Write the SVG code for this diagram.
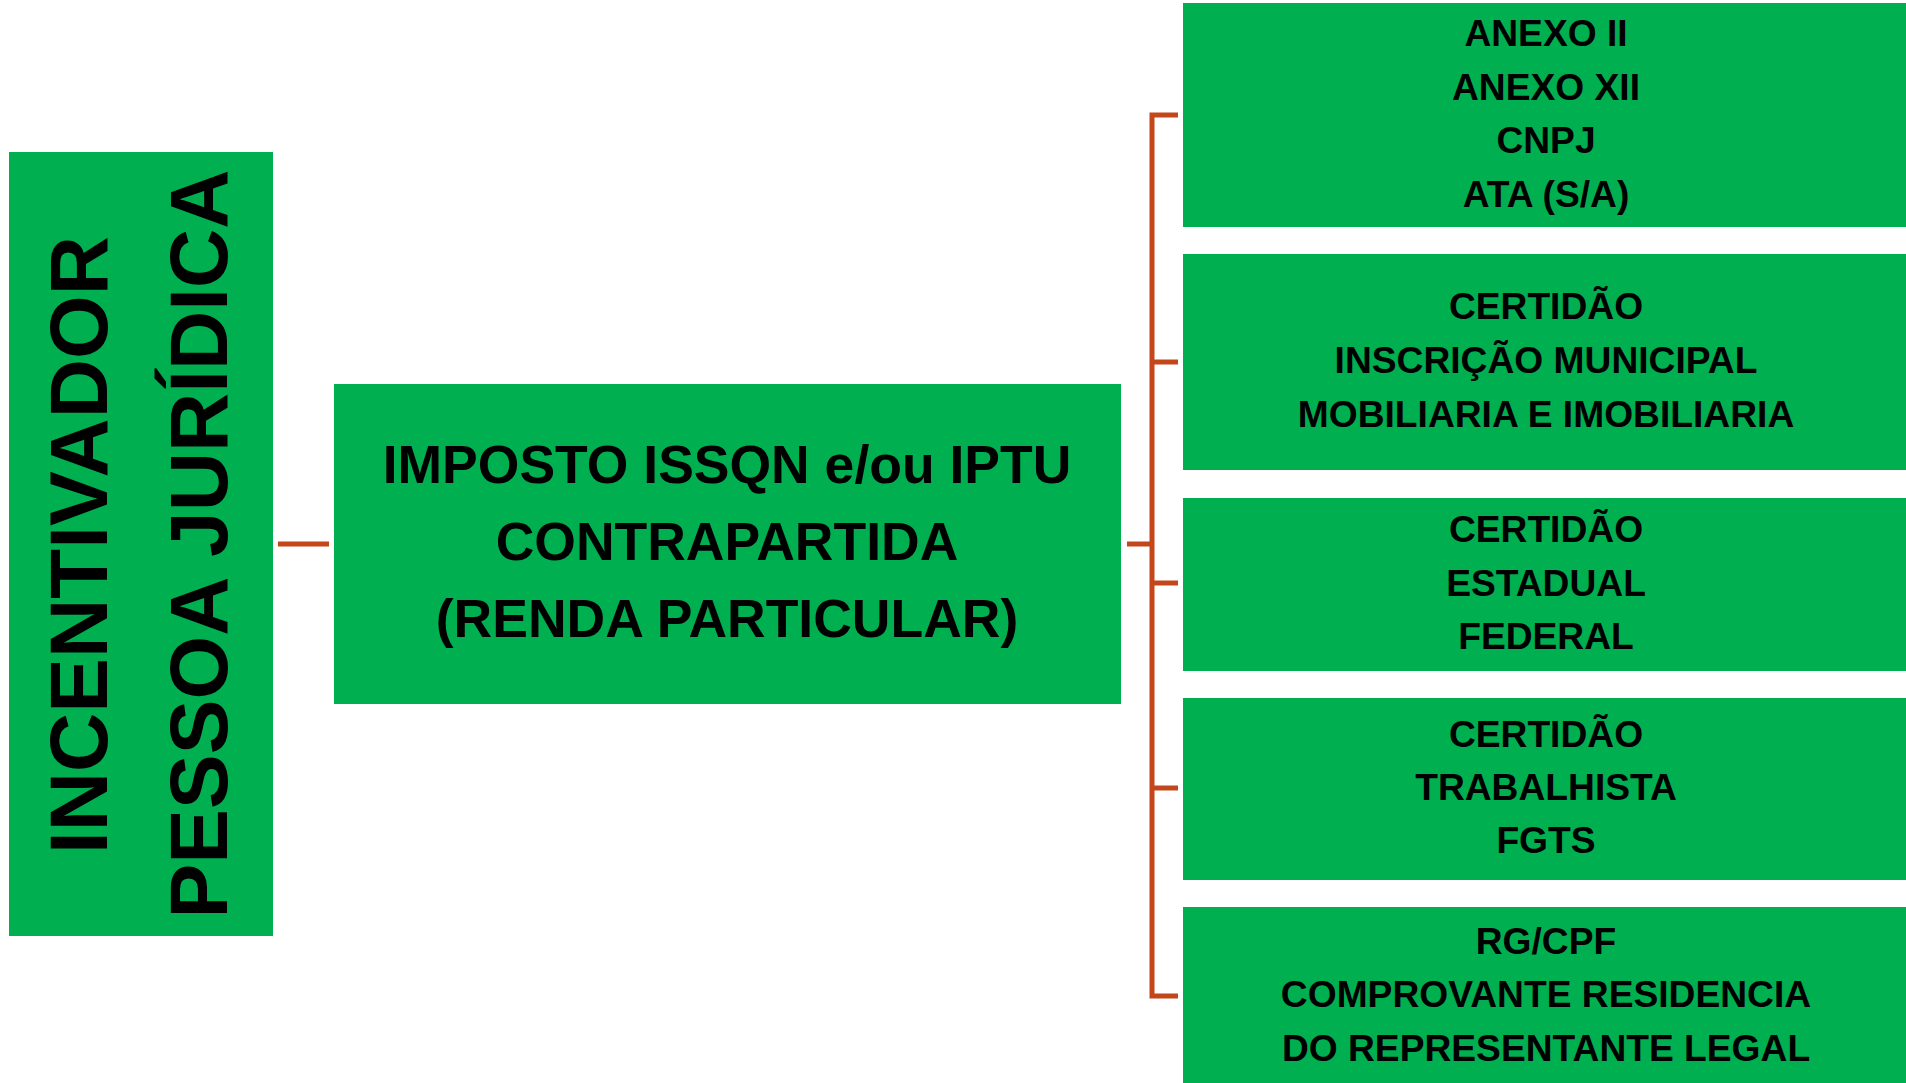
<svg xmlns="http://www.w3.org/2000/svg" width="1906" height="1083" viewBox="0 0 1906 1083">
<style>
.box{fill:#00B050}
.t{font-family:"Liberation Sans",Arial,sans-serif;font-weight:bold;fill:#000;text-anchor:middle}
.r{font-size:37.2px}
.m{font-size:53.5px}
.v{font-size:82px}
.c{stroke:#C4461B;stroke-width:5;fill:none}
</style>
<rect width="1906" height="1083" fill="#fff"/>
<g id="incentivador">
<rect class="box" x="9" y="152" width="264" height="784"/>
<text class="t v" transform="translate(107,545) rotate(-90)" x="0" y="0">INCENTIVADOR</text>
<text class="t v" transform="translate(227,544) rotate(-90)" x="0" y="0">PESSOA JURÍDICA</text>
</g>
<g id="imposto">
<rect class="box" x="334" y="384" width="787" height="320"/>
<text class="t m" x="727" y="483">IMPOSTO ISSQN e/ou IPTU</text>
<text class="t m" x="727" y="560">CONTRAPARTIDA</text>
<text class="t m" x="727" y="637">(RENDA PARTICULAR)</text>
</g>
<g id="anexos">
<rect class="box" x="1183" y="3" width="723" height="224"/>
<text class="t r" x="1546" y="46">ANEXO II</text>
<text class="t r" x="1546" y="100">ANEXO XII</text>
<text class="t r" x="1546" y="153">CNPJ</text>
<text class="t r" x="1546" y="207">ATA (S/A)</text>
</g>
<g id="certidao-municipal">
<rect class="box" x="1183" y="254" width="723" height="216"/>
<text class="t r" x="1546" y="319">CERTIDÃO</text>
<text class="t r" x="1546" y="373">INSCRIÇÃO MUNICIPAL</text>
<text class="t r" x="1546" y="427">MOBILIARIA E IMOBILIARIA</text>
</g>
<g id="certidao-estadual-federal">
<rect class="box" x="1183" y="498" width="723" height="173"/>
<text class="t r" x="1546" y="542">CERTIDÃO</text>
<text class="t r" x="1546" y="596">ESTADUAL</text>
<text class="t r" x="1546" y="649">FEDERAL</text>
</g>
<g id="certidao-trabalhista">
<rect class="box" x="1183" y="698" width="723" height="182"/>
<text class="t r" x="1546" y="747">CERTIDÃO</text>
<text class="t r" x="1546" y="800">TRABALHISTA</text>
<text class="t r" x="1546" y="853">FGTS</text>
</g>
<g id="representante">
<rect class="box" x="1183" y="907" width="723" height="176"/>
<text class="t r" x="1546" y="954">RG/CPF</text>
<text class="t r" x="1546" y="1007">COMPROVANTE RESIDENCIA</text>
<text class="t r" x="1546" y="1061">DO REPRESENTANTE LEGAL</text>
</g>
<g id="connectors">
<line class="c" x1="278" y1="544" x2="329" y2="544"/>
<line class="c" x1="1127" y1="544" x2="1152" y2="544"/>
<path class="c" d="M1178,115 H1152 V996 H1178"/>
<line class="c" x1="1152" y1="362" x2="1178" y2="362"/>
<line class="c" x1="1152" y1="583" x2="1178" y2="583"/>
<line class="c" x1="1152" y1="788" x2="1178" y2="788"/>
</g>
</svg>
